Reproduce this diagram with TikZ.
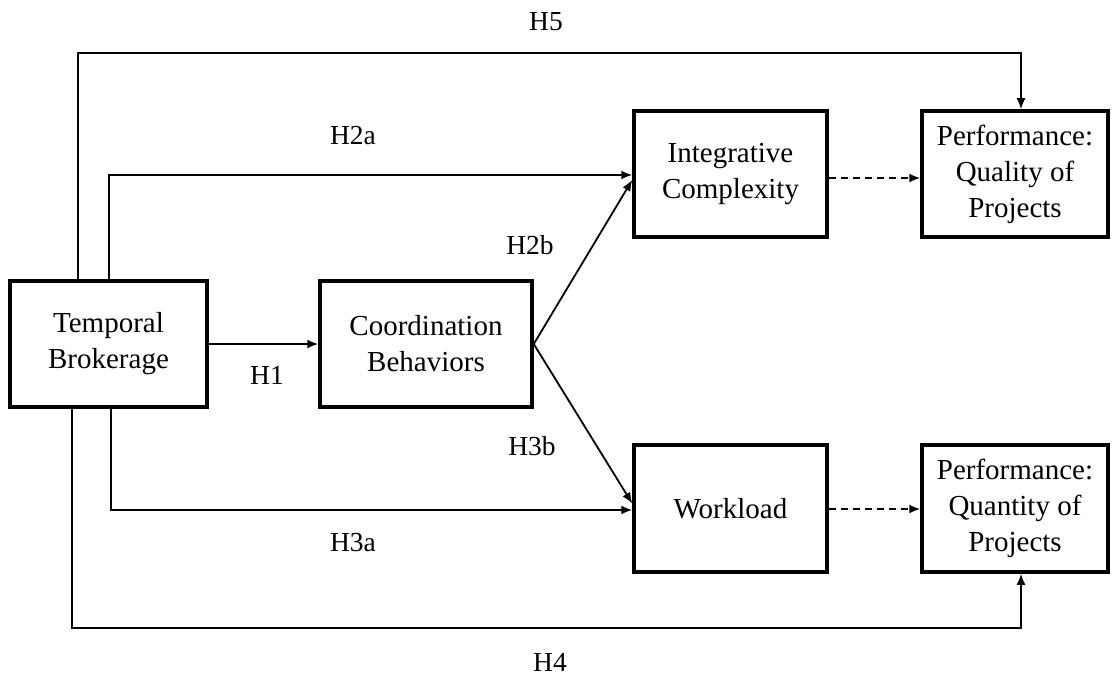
\documentclass[tikz,border=0pt]{standalone}
\usepackage{fontspec}
\setmainfont{Liberation Serif}
\usetikzlibrary{arrows.meta,calc}
\begin{document}
\begin{tikzpicture}[x=1pt,y=-1pt,
  box/.style={draw,line width=3.5pt,align=center,inner sep=0pt,font=\fontsize{29}{36}\selectfont},
  lbl/.style={font=\fontsize{27.5}{32}\selectfont,inner sep=0pt},
  conn/.style={line width=1.8pt,-{Latex[length=11pt,width=9pt]}},
  dconn/.style={conn,dash pattern=on 7pt off 5pt}]
\useasboundingbox (0,0) rectangle (1112,677);
\node[box,minimum width=197pt,minimum height=126pt] (TB) at (108.5,344) {Temporal\\Brokerage};
\node[box,minimum width=212pt,minimum height=126pt] (CB) at (426,344) {Coordination\\Behaviors};
\node[box,minimum width=193pt,minimum height=126pt] (IC) at (730.5,174) {Integrative\\Complexity};
\node[box,minimum width=186pt,minimum height=126pt] (PQ) at (1015,174) {Performance:\\Quality of\\Projects};
\node[box,minimum width=193pt,minimum height=127pt] (W) at (730.5,508.5) {Workload};
\node[box,minimum width=186pt,minimum height=127pt] (PN) at (1015,508.5) {Performance:\\Quantity of\\Projects};
\coordinate (c5) at (78,53);
\coordinate (c5r) at (1021,53);
\coordinate (c2a) at (109,175);
\coordinate (c3a) at (111,510);
\coordinate (c4) at (72,628);
\coordinate (c4r) at (1021,628);
\draw[conn] (TB.north -| c5) -- (c5) -- (c5r) -- (PQ.north -| c5r);
\draw[conn] (TB.north -| c2a) -- (c2a) -- (IC.west |- c2a);
\draw[conn] (TB.south -| c3a) -- (c3a) -- (W.west |- c3a);
\draw[conn] (TB.south -| c4) -- (c4) -- (c4r) -- (PN.south -| c4r);
\draw[conn] (TB) -- (CB);
\draw[conn] (CB.east) -- ($(IC.west)+(0,6)$);
\draw[conn] (CB.east) -- ($(W.west)+(0,-5)$);
\draw[dconn] ($(IC.east)+(0,4)$) -- ($(PQ.west)+(0,4)$);
\draw[dconn] ($(W.east)+(0,0.5)$) -- ($(PN.west)+(0,0.5)$);
\node[lbl] (h5) at (546,22) {H5};
\node[lbl] (h2a) at (353,136) {H2a};
\node[lbl] (h2b) at (530,245) {H2b};
\node[lbl] (h1) at (267,375) {H1};
\node[lbl] (h3b) at (532,446) {H3b};
\node[lbl] (h3a) at (353,543) {H3a};
\node[lbl] (h4) at (550,662) {H4};
\end{tikzpicture}
\end{document}
